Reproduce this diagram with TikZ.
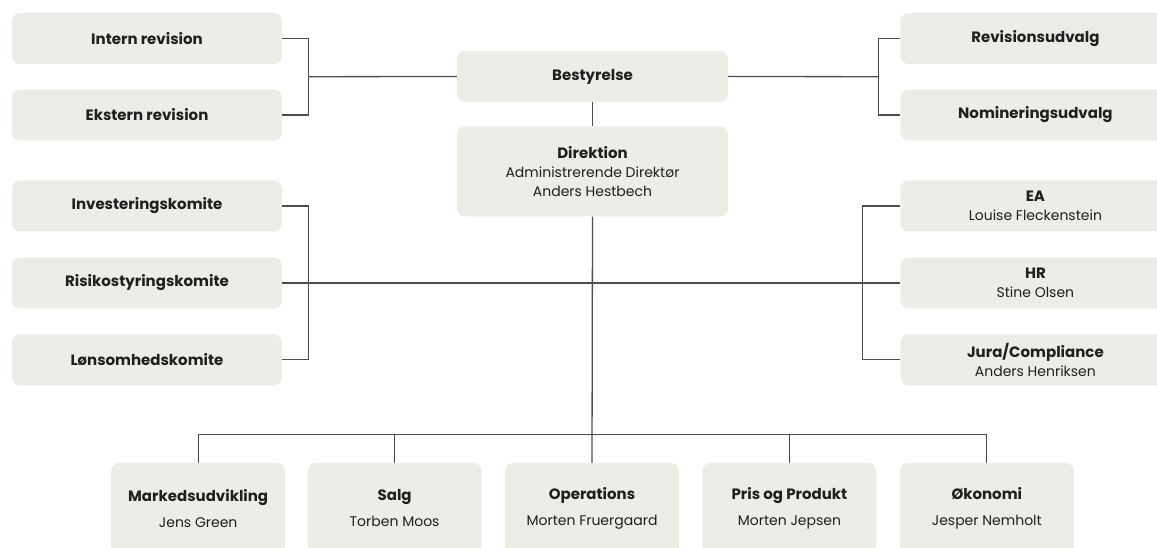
\documentclass[tikz,border=0pt]{standalone}
\usepackage{fontspec}
\setmainfont{Poppins}
\usepackage{tikz}
\usetikzlibrary{positioning, calc}
\definecolor{boxfill}{HTML}{EDECE6}
\definecolor{ink}{HTML}{1F1F1F}
\definecolor{wirecol}{HTML}{4D4D4D}
\newcommand{\unitname}[1]{{\fontsize{15}{19}\selectfont\bfseries #1}}
\tikzset{unit/.style={fill=boxfill, rounded corners=8pt, minimum width=270pt, minimum height=51pt, inner sep=0pt, align=center, text=ink, font=\fontsize{14}{19}\selectfont}}
\tikzset{dept/.style={unit, minimum width=174pt, minimum height=91pt}}
\tikzset{wire/.style={draw=wirecol, line width=1.3pt}}

\begin{document}
\begin{tikzpicture}[x=1pt, y=1pt]

  \clip (0,0) rectangle (1157,547);

  % board and direction
  \node[unit, minimum width=271pt] (bestyrelse) at (592.5,470.5) {\unitname{Bestyrelse}};
  \node[unit, minimum width=271pt, minimum height=90pt] (direktion) [below=24pt of bestyrelse]
    {\unitname{Direktion}\\Administrerende Direktør\\Anders Hestbech};

  % left column
  \node[unit] (intern) at (147,508.5) {\unitname{Intern revision}};
  \node[unit] (ekstern) [below=25pt of intern] {\unitname{Ekstern revision}};
  \node[unit] (invest) at (147,341) {\unitname{Investeringskomite}};
  \node[unit] (risiko) [below=25.5pt of invest] {\unitname{Risikostyringskomite}};
  \node[unit] (loen) [below=25.5pt of risiko] {\unitname{Lønsomhedskomite}};

  % right column
  \node[unit] (revision) [right=618pt of intern] {\unitname{Revisionsudvalg}};
  \node[unit] (nominering) [below=25pt of revision] {\unitname{Nomineringsudvalg}};
  \node[unit] (ea) [right=618pt of invest] {\unitname{EA}\\Louise Fleckenstein};
  \node[unit] (hr) [below=25.5pt of ea] {\unitname{HR}\\Stine Olsen};
  \node[unit] (jura) [below=25.5pt of hr] {\unitname{Jura/Compliance}\\Anders Henriksen};

  % departments
  \node[dept] (ops) at (592,38.5) {\unitname{Operations}\\[7pt]Morten Fruergaard};
  \node[dept] (salg) [left=23pt of ops] {\unitname{Salg}\\[7pt]Torben Moos};
  \node[dept] (markeds) [left=22pt of salg] {\unitname{Markedsudvikling}\\[7pt]Jens Green};
  \node[dept] (pris) [right=23pt of ops] {\unitname{Pris og Produkt}\\[7pt]Morten Jepsen};
  \node[dept] (oekonomi) [right=23pt of pris] {\unitname{Økonomi}\\[7pt]Jesper Nemholt};

  \coordinate (boardleft) at ($(intern.east)!0.5!(ekstern.east) + (26pt,0)$);
  \coordinate (boardright) at ($(revision.west)!0.5!(nominering.west) + (-22pt,0)$);
  \coordinate (comleft) at ($(risiko.east) + (26pt,0)$);
  \coordinate (staffright) at ($(hr.west) + (-38pt,0)$);
  \coordinate (bus) at ($(ops.north) + (0,28pt)$);

  \draw[wire] (intern.east) -| (boardleft) |- (ekstern.east);
  \draw[wire] (boardleft) -- (bestyrelse.west);
  \draw[wire] (revision.west) -| (boardright) |- (nominering.west);
  \draw[wire] (boardright) -- (bestyrelse.east);
  \draw[wire] (bestyrelse.south) -- (direktion.north);

  \draw[wire] (invest.east) -| (comleft) |- (loen.east);
  \draw[wire] (ea.west) -| (staffright) |- (jura.west);
  \draw[wire] (risiko.east) -- (hr.west);
  \draw[wire] (direktion.south) -- (ops.north);

  \draw[wire] (markeds.north) |- (bus) -| (oekonomi.north);
  \draw[wire] (salg.north) |- (bus);
  \draw[wire] (pris.north) |- (bus);

\end{tikzpicture}
\end{document}
